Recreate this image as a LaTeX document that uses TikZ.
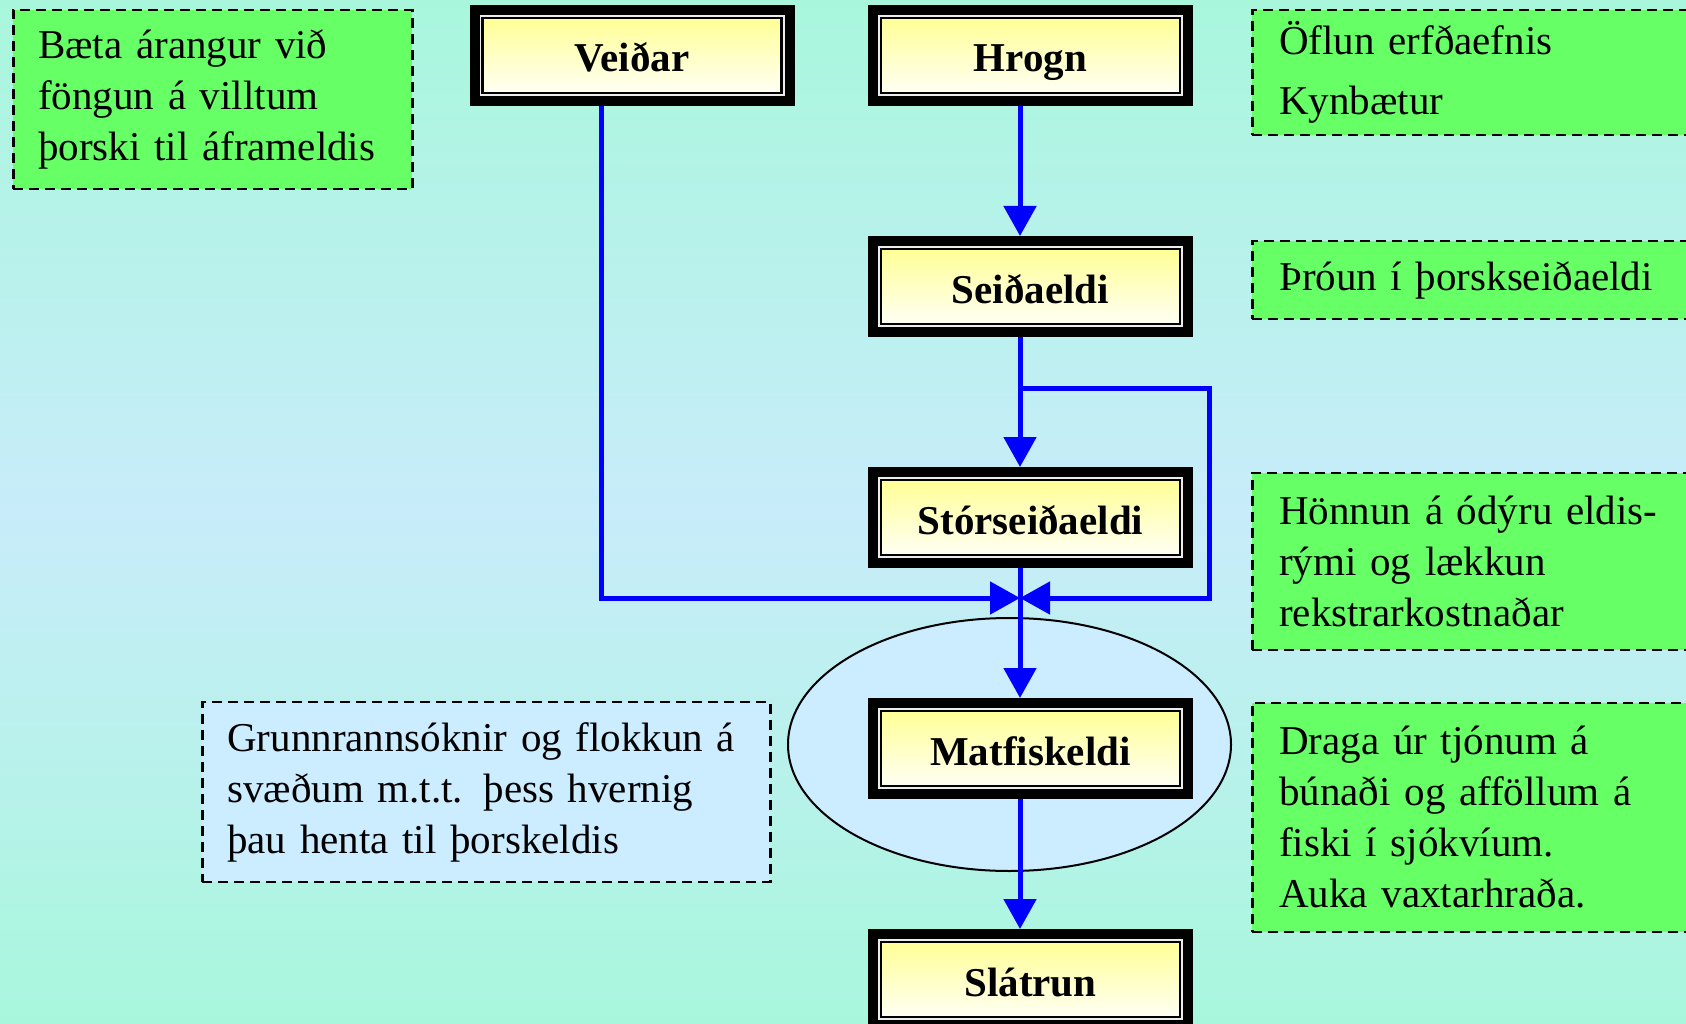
\documentclass[tikz,border=0pt]{standalone}
\usepackage{fontspec}
\setmainfont{Liberation Serif}
\usetikzlibrary{calc, shapes, arrows.meta}

\definecolor{bgmint}{RGB}{168,247,220}
\definecolor{bgsky}{RGB}{200,236,250}
\definecolor{notegreen}{RGB}{102,255,102}
\definecolor{notecyan}{RGB}{204,236,255}
\definecolor{stageyellow}{RGB}{255,255,150}
\definecolor{stagecream}{RGB}{255,255,244}
\definecolor{flowblue}{RGB}{0,0,255}

\tikzset{
    stage/.style={rectangle, inner sep=0, outer sep=13,
        minimum width=299, minimum height=75,
        text height=40, text depth=7,
        preaction={draw=black, line width=26},
        preaction={draw=white!85!gray, line width=6},
        top color=stageyellow, bottom color=stagecream,
        draw=black, line width=2.5, font=\fontsize{41}{51}\selectfont\bfseries},
    note/.style={rectangle, anchor=west, draw=black, line width=2.5,
        dash pattern=on 10pt off 6pt, fill=notegreen, align=left,
        inner xsep=27, inner ysep=0},
    flow/.style={draw=flowblue, line width=5,
        -{Triangle[length=30pt, width=32pt]}}
}

\begin{document}
\begin{tikzpicture}[x=1pt, y=-1pt, font=\fontsize{41}{51}\selectfont]
    \useasboundingbox (0, 0) rectangle (1686, 1024);
    \clip (0, 0) rectangle (1686, 1024);
    \shade [top color=bgmint, bottom color=bgmint, middle color=bgsky]
        (0, 0) rectangle (1686, 1024);

    \node (farm_zone) at (1009.5, 744.5)
        [draw, ellipse, line width=2, fill=notecyan, inner sep=0,
         minimum width=443, minimum height=253] {};

    % Stages
    \node (veidar) at (632, 55.5) [stage] {Veiðar};
    \node (hrogn) at (1030.5, 55.5) [stage] {Hrogn};
    \node (seidaeldi) at ($(hrogn) + (0, 231)$) [stage] {Seiðaeldi};
    \node (storseidaeldi) at ($(seidaeldi) + (0, 231)$) [stage] {Stórseiðaeldi};
    \node (matfiskeldi) at ($(storseidaeldi) + (0, 231)$) [stage] {Matfiskeldi};
    \node (slatrun) at ($(matfiskeldi) + (0, 231)$) [stage] {Slátrun};

    % Research notes
    \node (veidar_note) at (12, 99.5)
        [note, inner xsep=25, text width=349, minimum height=179]
        {Bæta árangur við\\ föngun á villtum\\ þorski til áframeldis};
    \node (hrogn_note) at (1251, 72.5)
        [note, text width=406, minimum height=125]
        {Öflun erfðaefnis\\[9pt] Kynbætur};
    \node (seidaeldi_note) at (1251, 280)
        [note, text width=406, minimum height=78]
        {Þróun í þorskseiðaeldi};
    \node (storseidaeldi_note) at (1251, 561.5)
        [note, text width=406, minimum height=177]
        {Hönnun á ódýru eldis-\\ rými og lækkun\\ rekstrarkostnaðar};
    \node (matfiskeldi_note) at (1251, 817.5)
        [note, text width=406, minimum height=229]
        {Draga úr tjónum á\\ búnaði og afföllum á\\ fiski í sjókvíum.\\ Auka vaxtarhraða.};
    \node (site_note) at (201, 792)
        [note, fill=notecyan, inner xsep=25, text width=518, minimum height=180]
        {Grunnrannsóknir og flokkun á\\ svæðum m.t.t. þess hvernig\\ þau henta til þorskeldis};

    \coordinate (junction) at (1020, 598);
    \coordinate (branch) at (1020, 388);
    \coordinate (loop_corner) at (1209, 388);

    \draw [flow] ([xshift=-10.5]hrogn.south) -- ([xshift=-10.5]seidaeldi.north);
    \draw [flow] ([xshift=-10.5]seidaeldi.south) -- ([xshift=-10.5]storseidaeldi.north);
    \draw [flow] (branch) -- (loop_corner) |- (junction);
    \draw [flow] ([xshift=-31]veidar.south) |- (junction);
    \draw [flow] ([xshift=-10.5]storseidaeldi.south) -- ([xshift=-10.5]matfiskeldi.north);
    \draw [flow] ([xshift=-10.5]matfiskeldi.south) -- ([xshift=-10.5]slatrun.north);
\end{tikzpicture}
\end{document}
